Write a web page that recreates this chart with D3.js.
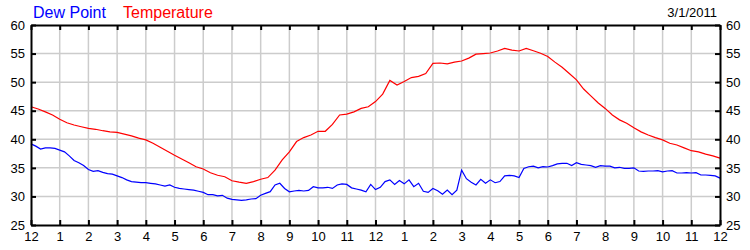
<!DOCTYPE html>
<html>
<head>
<meta charset="utf-8">
<script src="https://cdn.jsdelivr.net/npm/d3@7"></script>
<style>
body { margin: 0; background: #fff; }
svg { display: block; font-family: "Liberation Sans", Arial, sans-serif; }
</style>
</head>
<body>
<svg width="750" height="250"></svg>
<script>
// hour labels along the bottom, midnight to midnight
var hourLabels = ["12","1","2","3","4","5","6","7","8","9","10","11",
                  "12","1","2","3","4","5","6","7","8","9","10","11","12"];
var yTicks = [25, 30, 35, 40, 45, 50, 55, 60];

// temperature, every 15 minutes from 0:00
var tempStep = 0.25;
var temperature = [45.7,45.3,44.8,44.25,43.5,42.9,42.5,42.2,41.9,41.75,41.5,41.3,
  41.2,40.9,40.6,40.2,39.9,39.3,38.6,37.9,37.2,36.55,35.9,35.2,
  34.8,34.15,33.7,33.45,32.75,32.5,32.3,32.6,33.0,33.3,34.6,36.4,
  37.8,39.6,40.3,40.75,41.4,41.4,42.6,44.25,44.4,44.8,45.4,45.7,
  46.6,47.9,50.3,49.5,50.1,50.8,51.0,51.5,53.3,53.35,53.2,53.5,
  53.7,54.2,54.9,55.0,55.1,55.45,55.9,55.6,55.45,55.9,55.5,55.05,
  54.5,53.5,52.6,51.5,50.4,48.8,47.6,46.4,45.4,44.25,43.4,42.8,
  42.0,41.3,40.75,40.3,39.9,39.3,39.0,38.5,38.0,37.8,37.4,37.1,36.7];

// dew point, every 10 minutes from 0:00
var dewStep = 1 / 6;
var dewPoint = [39.2,38.8,38.3,38.5,38.5,38.4,38.1,37.8,37.1,36.3,35.9,35.4,
  34.7,34.4,34.5,34.2,34.0,33.9,33.6,33.3,32.9,32.6,32.5,32.4,
  32.4,32.3,32.2,32.0,31.8,32.0,31.6,31.4,31.3,31.2,31.1,30.9,
  30.7,30.3,30.3,30.1,30.2,29.7,29.5,29.4,29.3,29.4,29.55,29.6,
  30.2,30.54,30.83,32.0,32.3,31.4,30.8,30.95,31.05,30.95,31.05,31.7,
  31.5,31.5,31.6,31.4,32.0,32.2,32.1,31.5,31.3,31.1,30.8,32.1,
  31.2,31.6,32.6,32.9,32.1,32.8,32.2,32.9,31.7,32.3,30.9,30.7,
  31.4,31.0,30.4,31.1,30.3,31.1,34.6,33.1,32.5,32.0,33.0,32.3,
  32.9,32.4,32.6,33.6,33.7,33.6,33.3,34.9,35.2,35.3,35.0,35.2,
  35.15,35.4,35.7,35.8,35.8,35.4,35.9,35.6,35.5,35.4,35.1,35.4,
  35.3,35.3,35.0,35.1,34.9,34.9,35.0,34.45,34.4,34.45,34.45,34.5,
  34.3,34.45,34.5,34.1,34.1,34.15,34.1,34.15,33.75,33.75,33.7,33.6,33.2];

var svg = d3.select("svg"),
    plotLeft = 31, plotRight = 720, plotTop = 25, plotBottom = 225;

var x = d3.scaleLinear().domain([0, 24]).range([plotLeft, plotRight]);
var y = d3.scaleLinear().domain([25, 60]).range([plotBottom, plotTop]);
var hours = d3.range(0, 25);

// grid
var grid = svg.append("g").attr("stroke", "#cccccc").attr("stroke-width", 1.5);
grid.selectAll(".gx").data(hours.slice(1, 24)).enter().append("line")
    .attr("x1", function(d) { return x(d); }).attr("x2", function(d) { return x(d); })
    .attr("y1", plotTop).attr("y2", plotBottom);
grid.selectAll(".gy").data(yTicks.slice(1, -1)).enter().append("line")
    .attr("y1", function(d) { return y(d); }).attr("y2", function(d) { return y(d); })
    .attr("x1", plotLeft).attr("x2", plotRight);

// series
var line = function(step) {
  return d3.line()
    .x(function(d, i) { return x(i * step); })
    .y(function(d) { return y(d); });
};
svg.append("path").datum(temperature)
    .attr("fill", "none").attr("stroke", "#ff0000").attr("stroke-width", 1.2)
    .attr("d", line(tempStep));
svg.append("path").datum(dewPoint)
    .attr("fill", "none").attr("stroke", "#0000ff").attr("stroke-width", 1.2)
    .attr("d", line(dewStep));

// axes, ticks pointing inward
var fmtHour = function(d) { return hourLabels[d]; };
svg.append("g").attr("transform", "translate(0," + plotBottom + ")")
    .call(d3.axisBottom(x).tickValues(hours).tickFormat(fmtHour).tickSizeInner(-5).tickSizeOuter(0).tickPadding(7));
svg.append("g").attr("transform", "translate(0," + plotTop + ")")
    .call(d3.axisTop(x).tickValues(hours).tickFormat("").tickSizeInner(-5).tickSizeOuter(0));
svg.append("g").attr("transform", "translate(" + plotLeft + ",0)")
    .call(d3.axisLeft(y).tickValues(yTicks).tickSizeInner(-5).tickSizeOuter(0).tickPadding(6));
svg.append("g").attr("transform", "translate(" + plotRight + ",0)")
    .call(d3.axisRight(y).tickValues(yTicks).tickSizeInner(-5).tickSizeOuter(0).tickPadding(6));

svg.selectAll(".domain").attr("stroke", "#000").attr("stroke-width", 2);
svg.selectAll(".tick line").attr("stroke", "#000").attr("stroke-width", 2);
svg.selectAll(".tick text").attr("fill", "#000")
    .style("font-family", "'Liberation Sans', Arial, sans-serif").style("font-size", "13px");

// legend and date
svg.append("text").attr("x", 33).attr("y", 18).attr("fill", "#0000ff")
    .style("font-size", "16px").text("Dew Point");
svg.append("text").attr("x", 123).attr("y", 18).attr("fill", "#ff0000")
    .style("font-size", "16px").text("Temperature");
svg.append("text").attr("x", 717).attr("y", 17).attr("text-anchor", "end")
    .style("font-size", "13px").text("3/1/2011");
</script>
</body>
</html>
